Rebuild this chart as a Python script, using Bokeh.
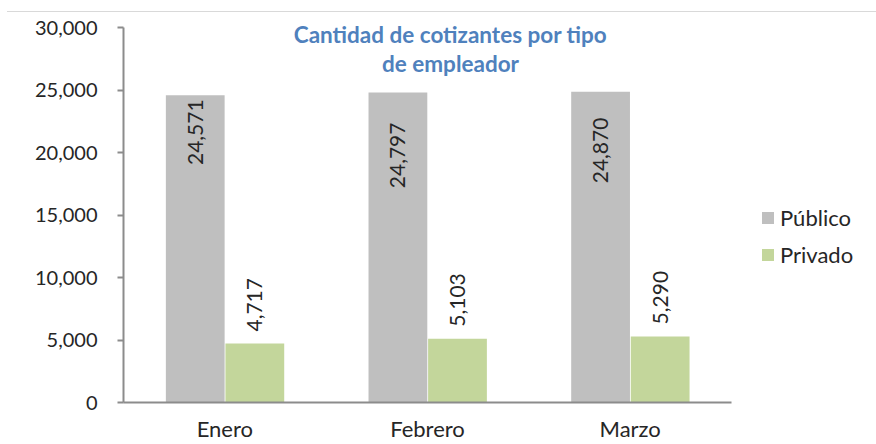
import math
from bokeh.plotting import figure
from bokeh.models import (ColumnDataSource, LabelSet, Label, Legend, LegendItem,
                          NumeralTickFormatter, FixedTicker, InlineStyleSheet)
from bokeh.core.properties import value
from bokeh.embed import file_html
from bokeh.resources import INLINE

months = ["Enero", "Febrero", "Marzo"]
publico = [24571, 24797, 24870]
privado = [4717, 5103, 5290]
y_ticks = [0, 5000, 10000, 15000, 20000, 25000, 30000]
title_lines = ["Cantidad de cotizantes por tipo", "de empleador"]
series_names = ["Público", "Privado"]

# style-only: pixel offsets of the Público value labels below the bar tops
pub_label_offsets = [-4, -30, -26]

FONT = "Lato"
GRAY = "#BFBFBF"
GREEN = "#C3D69B"
AXIS = "#8C8C8C"
TXT = "#262626"

# category slots: one unit per month, centred at i + 0.5
slot = [i + 0.5 for i in range(len(months))]
PUB_SHIFT, PRIV_SHIFT, BAR_W = -0.146, 0.148, 0.29

source = ColumnDataSource(dict(
    month=months,
    x_pub=[s + PUB_SHIFT for s in slot],
    x_priv=[s + PRIV_SHIFT for s in slot],
    publico=publico,
    privado=privado,
    pub_lbl=[f"{v:,}" for v in publico],
    priv_lbl=[f"{v:,}" for v in privado],
))

FRAME_L, FRAME_R = 123, 4
n = len(months)
x_end = n * (876 - FRAME_L - FRAME_R) / 608.0

p = figure(x_range=(0, x_end), y_range=(0, 30800), width=876, height=444,
           output_backend="svg", toolbar_location=None,
           min_border_left=FRAME_L, min_border_right=FRAME_R,
           min_border_top=17, min_border_bottom=41)
p.outline_line_color = None
p.xgrid.grid_line_color = None
p.ygrid.grid_line_color = None
p.background_fill_color = "white"
p.border_fill_color = "white"

r1 = p.vbar(x="x_pub", top="publico", width=BAR_W, source=source,
            fill_color=GRAY, line_color=None)
r2 = p.vbar(x="x_priv", top="privado", width=BAR_W, source=source,
            fill_color=GREEN, line_color=None)

# Público value labels: inside the top of each bar
for xp, v, lbl, off in zip(source.data["x_pub"], publico,
                           source.data["pub_lbl"], pub_label_offsets):
    p.add_layout(Label(x=xp, y=v, text=lbl, angle=math.pi / 2,
                       text_align="right", text_baseline="middle",
                       y_offset=off, text_font=FONT, text_font_size="21px",
                       text_color=TXT))
# Privado value labels: above each bar
p.add_layout(LabelSet(x="x_priv", y="privado", text="priv_lbl", angle=math.pi / 2,
                      text_align="left", text_baseline="middle", y_offset=12,
                      source=source, text_font=value(FONT),
                      text_font_size="21px", text_color=TXT))

# axes
p.yaxis.ticker = FixedTicker(ticks=y_ticks)
p.yaxis.bounds = (0, 30000)
p.yaxis.formatter = NumeralTickFormatter(format="0,0")
p.xaxis.ticker = FixedTicker(ticks=slot)
p.xaxis.major_label_overrides = {s: m for s, m in zip(slot, months)}
p.xaxis.bounds = (0, n)
for ax in (p.xaxis, p.yaxis):
    ax.axis_line_color = AXIS
    ax.axis_line_width = 2
    ax.major_tick_line_color = AXIS
    ax.major_tick_line_width = 2
    ax.minor_tick_line_color = None
    ax.major_label_text_font = FONT
    ax.major_label_text_color = TXT
p.yaxis.major_label_text_font_size = "20px"
p.xaxis.major_label_text_font_size = "22px"
p.yaxis.major_tick_out = 6
p.yaxis.major_tick_in = 0
p.yaxis.major_label_standoff = 20
p.xaxis.major_tick_out = 0
p.xaxis.major_tick_in = 0
p.xaxis.major_label_standoff = 12

# title inside chart
for txt, yy in zip(title_lines, [368, 339]):
    p.add_layout(Label(x=327, y=yy, x_units="screen", y_units="screen", text=txt,
                       text_align="center", text_baseline="middle",
                       text_font=FONT, text_font_style="bold",
                       text_font_size="22.5px", text_color="#4F81BD"))

legend = Legend(items=[LegendItem(label=series_names[0], renderers=[r1]),
                       LegendItem(label=series_names[1], renderers=[r2])],
                location=(637, 134), orientation="vertical")
legend.border_line_color = None
legend.background_fill_alpha = 0
legend.padding = 0
legend.margin = 0
legend.glyph_width = 15
legend.glyph_height = 15
legend.label_standoff = 5
legend.spacing = 10
legend.label_text_font = FONT
legend.label_text_font_size = "22px"
legend.label_text_color = TXT
p.add_layout(legend)

# thin light border line along the top of the chart area
p.stylesheets = [InlineStyleSheet(css=(
    ":host::after { content: ''; position: absolute; left: 7px; right: 0; "
    "top: 11px; height: 1px; background: #D9D9D9; z-index: 10; "
    "pointer-events: none; }"))]

open("out.html", "w").write(file_html(p, INLINE))
